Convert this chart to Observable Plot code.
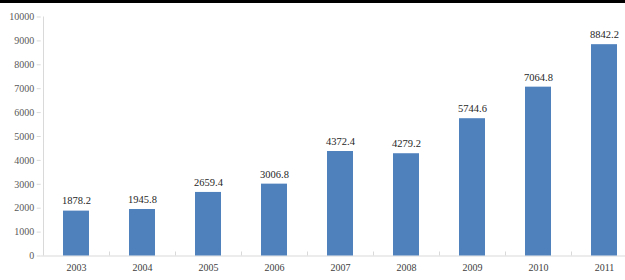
<!DOCTYPE html>
<html><head><meta charset="utf-8">
<script src="https://cdn.jsdelivr.net/npm/d3@7"></script>
<script src="https://cdn.jsdelivr.net/npm/@observablehq/plot@0.6"></script>
<style>
body{margin:0;background:#fff;overflow:hidden;font-family:"Liberation Serif"}
#wrap{position:relative;width:625px;height:280px}
#topline{position:absolute;left:0;top:0;width:625px;height:2.5px;background:#000;z-index:2}
svg{display:block}
#chart svg text{font-family:"Liberation Serif"}
</style></head>
<body><div id="wrap"><div id="topline"></div><div id="chart"></div></div>
<script>
const years = ["2003","2004","2005","2006","2007","2008","2009","2010","2011"];
const values = [1878.2, 1945.8, 2659.4, 3006.8, 4372.4, 4279.2, 5744.6, 7064.8, 8842.2];
const yTicks = [0,1000,2000,3000,4000,5000,6000,7000,8000,9000,10000];

const data = years.map((y,i)=>({year:y, value:values[i]}));
const font = "Liberation Serif";
const H = 280, MT = 16.5, MB = 24.5;

function build(step){
  return Plot.plot({
    width:625, height:H,
    marginLeft:40.7, marginRight:-14.7, marginTop:MT, marginBottom:MB,
    style:{fontFamily:font, fontSize:"10px", background:"#fff"},
    x:{domain:years, padding:0.61, paddingOuter:0.305, align:0.5, label:null},
    y:{domain:[0,10000], label:null},
    marks:[
      Plot.ruleY([0],{stroke:"#d9d9d9"}),
      Plot.ruleX([years[0]],{dx:-step/2, stroke:"#d9d9d9"}),
      Plot.barY(data,{x:"year", y:"value", fill:"#4f81bd"}),
      Plot.text(data,{x:"year", y:"value", text:d=>d.value.toFixed(1), dy:-10, fill:"#262626", fontSize:10.5}),
      Plot.ruleX(years.slice(1),{dx:-step/2, insetTop:(H-MT-MB)-4, stroke:"#d9d9d9"}),
      Plot.axisY({ticks:yTicks, tickFormat:d=>String(d), tickSize:4, tickPadding:3, stroke:"#d9d9d9", fill:"#595959", label:null}),
      Plot.axisX({tickSize:0, tickPadding:8, fill:"#404040", label:null})
    ]
  });
}
const probe = build(0);
const step = probe.scale("x").step;
const chart = build(step);
document.getElementById("chart").appendChild(chart);
void getComputedStyle(chart.querySelector("text")).fontFamily;
</script></body></html>
